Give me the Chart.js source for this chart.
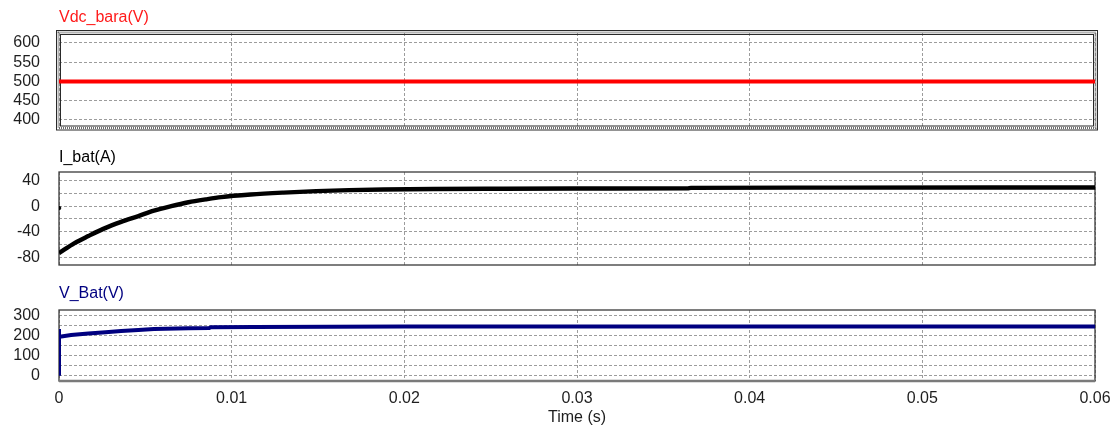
<!DOCTYPE html>
<html><head><meta charset="utf-8">
<script src="https://cdn.jsdelivr.net/npm/chart.js@4.4.1/dist/chart.umd.min.js"></script>
<style>
html,body{margin:0;padding:0;background:#fff;}
#wrap{position:relative;width:1115px;height:427px;overflow:hidden;background:#fff;}
canvas{position:absolute;left:0;}
</style></head><body>
<div id="wrap">
<canvas id="c1" width="1115" height="140" style="top:0px"></canvas>
<canvas id="c2" width="1115" height="135" style="top:140px"></canvas>
<canvas id="c3" width="1115" height="152" style="top:275px"></canvas>
</div>
<script>
// ---- data ----
const xTicks = [0, 0.01, 0.02, 0.03, 0.04, 0.05, 0.06];
const xTickLabels = ['0', '0.01', '0.02', '0.03', '0.04', '0.05', '0.06'];

const vdcTime   = [0, 0.06];
const vdcValues = [500, 500];
const vdcGrid   = [400, 450, 500, 550, 600];
const vdcLabels = [400, 450, 500, 550, 600];

const ibatTime   = [0, 0.0009, 0.0017, 0.0026, 0.0036, 0.0046, 0.0055, 0.0065, 0.0075, 0.0085, 0.0094, 0.0111, 0.013, 0.0149, 0.0168, 0.0188, 0.0217, 0.0255, 0.03, 0.0364, 0.0366, 0.045, 0.06];
const ibatValues = [-73, -57.5, -46.5, -35, -24.5, -15.5, -7, 0, 6, 10.5, 14, 18, 21, 23.3, 24.8, 25.8, 26.6, 27, 27.3, 27.6, 28.4, 28.7, 29];
const ibatStartTime  = [0];
const ibatStartValue = [-3];
const ibatGrid   = [-80, -60, -40, -20, 0, 20, 40];
const ibatLabels = [-80, -40, 0, 40];

const vbatTime   = [0, 0, 0, 0.00014, 0.0007, 0.0017, 0.0027, 0.0036, 0.0046, 0.0055, 0.0075, 0.0087, 0.0088, 0.0113, 0.02, 0.06];
const vbatValues = [0, 235, 197, 197, 205, 212, 219, 225, 230, 235, 238, 240, 244, 245, 247, 247];
const vbatGrid   = [0, 50, 100, 150, 200, 250, 300];
const vbatLabels = [0, 100, 200, 300];

// ---- helpers ----
const FONT = {family: "'Liberation Sans', Arial, sans-serif", size: 16};
const TXT = '#1e1e1e';
const zip = (xs, ys) => xs.map((x, i) => ({x: x, y: ys[i]}));

const panelPlugin = {
  id: 'panel',
  beforeDatasetsDraw(chart, args, opts) {
    const {ctx, chartArea: a} = chart;
    ctx.save();
    if (opts.thick) {
      ctx.strokeStyle = '#2a2a2a'; ctx.lineWidth = 1;
      ctx.strokeRect(a.left - 2.5, a.top - 2.5, a.right - a.left + 5, a.bottom - a.top + 5);
      ctx.strokeStyle = '#6a6a6a'; ctx.lineWidth = 2; ctx.setLineDash([1, 1]);
      ctx.strokeRect(a.left - 0.5, a.top - 0.5, a.right - a.left + 1, a.bottom - a.top + 1);
      ctx.setLineDash([]);
      ctx.strokeStyle = '#2a2a2a'; ctx.lineWidth = 1;
      ctx.strokeRect(a.left + 1.5, a.top + 1.5, a.right - a.left - 3, a.bottom - a.top - 3);
    } else {
      ctx.strokeStyle = '#3a3a3a'; ctx.lineWidth = 1.3;
      ctx.strokeRect(a.left, a.top, a.right - a.left, a.bottom - a.top);
      if (opts.thickBottom) {
        ctx.strokeStyle = '#7a7a7a'; ctx.lineWidth = 2.5;
        ctx.beginPath(); ctx.moveTo(a.left, a.bottom); ctx.lineTo(a.right, a.bottom); ctx.stroke();
      }
    }
    ctx.restore();
  },
  afterDraw(chart, args, opts) {
    const {ctx, chartArea: a} = chart;
    ctx.save();
    ctx.font = "16px 'Liberation Sans', Arial, sans-serif";
    ctx.fillStyle = opts.color;
    ctx.textBaseline = 'alphabetic';
    ctx.textAlign = 'left';
    ctx.fillText(opts.title, a.left, opts.baseline);
    ctx.restore();
  }
};

function noPad(s) { s.paddingTop = 0; s.paddingBottom = 0; s.paddingLeft = 0; s.paddingRight = 0; }

function makeChart(id, cfg) {
  const showX = !!cfg.showX;
  return new Chart(document.getElementById(id), {
    type: 'line',
    data: {datasets: cfg.datasets},
    options: {
      responsive: false,
      animation: false,
      events: [],
      layout: {padding: cfg.padding},
      plugins: {
        legend: {display: false},
        tooltip: {enabled: false},
        title: {display: false},
        panel: {thick: cfg.thick, thickBottom: cfg.thickBottom, title: cfg.title, color: cfg.titleColor, baseline: cfg.baseline}
      },
      elements: {point: {radius: 0}},
      scales: {
        x: {
          type: 'linear', min: 0, max: 0.06,
          afterBuildTicks: s => { s.ticks = xTicks.map(v => ({value: v})); },
          afterFit: s => { s.height = showX ? 46 : 0; noPad(s); },
          grid: {color: '#9c9c9c', lineWidth: 1, drawTicks: false},
          border: {display: false, dash: [3, 2]},
          ticks: {display: showX, autoSkip: false, maxRotation: 0, padding: 8, font: FONT, color: TXT,
                  callback: (v, i) => xTickLabels[i]},
          title: {display: showX, text: 'Time (s)', padding: {top: 0, bottom: 0}, font: FONT, color: TXT}
        },
        y: {
          type: 'linear', position: 'left', min: cfg.min, max: cfg.max,
          afterBuildTicks: s => { s.ticks = cfg.grid.map(v => ({value: v})); },
          afterFit: s => { s.width = 59; noPad(s); },
          grid: {color: '#9c9c9c', lineWidth: 1, drawTicks: false},
          border: {display: false, dash: [3, 2]},
          ticks: {autoSkip: false, padding: 19, font: FONT, color: TXT,
                  callback: v => (cfg.labels.indexOf(v) >= 0 ? String(v) : '')}
        }
      }
    },
    plugins: [panelPlugin]
  });
}

makeChart('c1', {
  padding: {top: 33, bottom: 12.5, left: 0, right: 20},
  min: 380, max: 626, grid: vdcGrid, labels: vdcLabels,
  thick: true, title: 'Vdc_bara(V)', titleColor: '#ff1a1a', baseline: 21.5,
  datasets: [{data: zip(vdcTime, vdcValues), borderColor: '#ff0000', borderWidth: 4, tension: 0}]
});

makeChart('c2', {
  padding: {top: 32, bottom: 10, left: 0, right: 20},
  min: -91.5, max: 53, grid: ibatGrid, labels: ibatLabels,
  title: 'I_bat(A)', titleColor: '#000000', baseline: 21.5,
  datasets: [
    {data: zip(ibatTime, ibatValues), borderColor: '#000000', borderWidth: 4.4, cubicInterpolationMode: 'monotone'},
    {data: zip(ibatStartTime, ibatStartValue), borderColor: '#000', backgroundColor: '#000', showLine: false, pointRadius: 1.8}
  ]
});

makeChart('c3', {
  padding: {top: 35, bottom: 0, left: 0, right: 20},
  min: -26, max: 330, grid: vbatGrid, labels: vbatLabels,
  showX: true, thickBottom: true, title: 'V_Bat(V)', titleColor: '#000080', baseline: 23,
  datasets: [{data: zip(vbatTime, vbatValues), borderColor: '#000080', borderWidth: 4, tension: 0}]
});
</script>
</body></html>
